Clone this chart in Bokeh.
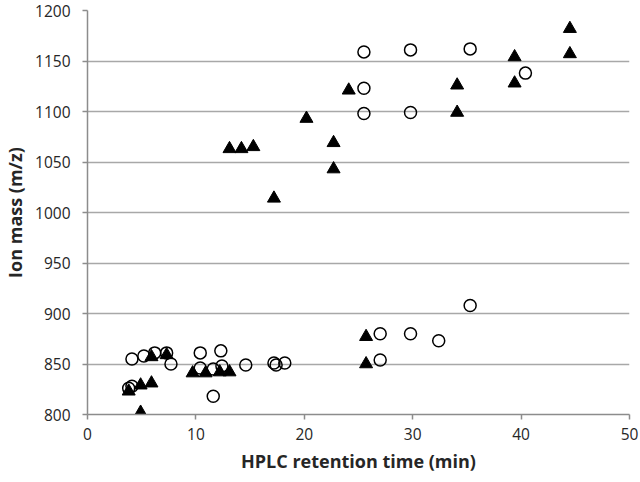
from bokeh.plotting import figure
from bokeh.models import Range1d, FixedTicker, ColumnDataSource
from bokeh.embed import file_html
from bokeh.resources import INLINE

# Open circles series
circle_x = [3.8, 4.1, 4.1, 5.2, 6.2, 7.3, 7.7, 10.4, 12.3, 11.6, 10.4, 11.6, 12.4, 14.6,
            17.2, 17.4, 18.2, 25.5, 25.5, 25.5, 29.8, 29.8, 35.3, 40.4, 27.0, 29.8, 32.4,
            27.0, 35.3]
circle_y = [826, 828, 855, 858, 861, 861, 850, 861, 863, 818, 846, 845, 848, 849,
            851, 849, 851, 1159, 1123, 1098, 1161, 1099, 1162, 1138, 880, 880, 873,
            854, 908]

# Filled triangles series
tri_x = [3.8, 4.9, 5.9, 4.9, 5.9, 7.3, 9.7, 10.9, 12.2, 13.1, 13.1, 14.2, 15.3, 17.2,
         20.2, 22.7, 22.7, 24.1, 25.7, 25.7, 34.1, 34.1, 39.4, 39.4, 44.5, 44.5]
tri_y = [823, 829, 831, 802, 857, 859, 841, 841, 842, 842, 1063, 1063, 1065, 1014,
         1093, 1069, 1043, 1121, 877, 850, 1126, 1099, 1154, 1128, 1182, 1157]

x_ticks = [0, 10, 20, 30, 40, 50]
y_ticks = [800, 850, 900, 950, 1000, 1050, 1100, 1150, 1200]

FONT = "Open Sans"
TXT = "#262626"

p = figure(width=640, height=482, output_backend="svg", toolbar_location=None,
           x_range=Range1d(0, 50), y_range=Range1d(800, 1200),
           min_border_left=84, min_border_right=11, min_border_top=10, min_border_bottom=68)
p.outline_line_color = None
p.background_fill_color = "white"
p.border_fill_color = "white"

p.xgrid.grid_line_color = None
p.ygrid.grid_line_color = "#a8a8a8"
p.ygrid.grid_line_width = 1.5

for ax in (p.xaxis[0], p.yaxis[0]):
    ax.axis_line_color = "#8c8c8c"
    ax.axis_line_width = 1.5
    ax.major_tick_line_color = "#8c8c8c"
    ax.major_tick_line_width = 1.5
    ax.major_tick_out = 5
    ax.major_tick_in = 0
    ax.minor_tick_line_color = None
    ax.major_label_text_font = FONT
    ax.major_label_text_font_size = "15.5px"
    ax.major_label_text_color = TXT
    ax.axis_label_text_font = FONT
    ax.axis_label_text_font_size = "18px"
    ax.axis_label_text_font_style = "bold"
    ax.axis_label_text_color = TXT

p.xaxis[0].ticker = FixedTicker(ticks=x_ticks)
p.yaxis[0].ticker = FixedTicker(ticks=y_ticks)
p.xaxis[0].bounds = (0, 50)
p.yaxis[0].bounds = (800, 1200)
p.xaxis[0].major_label_standoff = 8
p.yaxis[0].major_label_standoff = 12
p.xaxis[0].axis_label = "HPLC retention time (min)"
p.yaxis[0].axis_label = "Ion mass (m/z)"
p.xaxis[0].axis_label_standoff = 6
p.yaxis[0].axis_label_standoff = 5

tri_src = ColumnDataSource(dict(x=tri_x, y=tri_y))
circ_src = ColumnDataSource(dict(x=circle_x, y=circle_y))

p.scatter("x", "y", source=tri_src, marker="triangle", size=13,
          fill_color="black", line_color="black", line_width=1)
p.scatter("x", "y", source=circ_src, marker="circle", size=12,
          fill_color=None, line_color="black", line_width=1.5)

open("out.html", "w").write(file_html(p, INLINE))
